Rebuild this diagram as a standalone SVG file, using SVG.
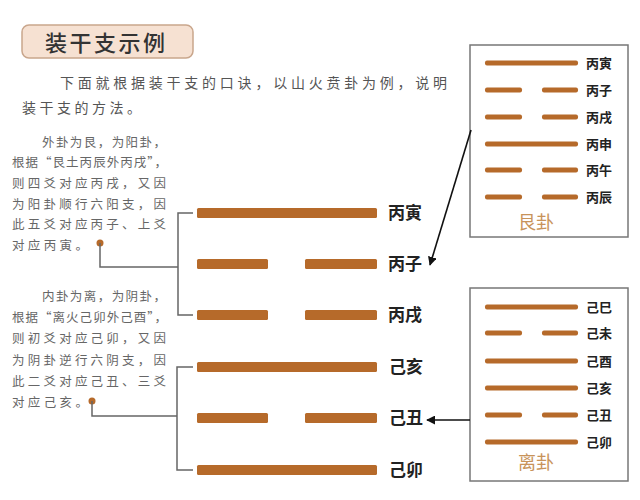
<svg xmlns="http://www.w3.org/2000/svg" width="640" height="500" viewBox="0 0 640 500">
<defs>
<style>
.yao{fill:#b66a2a;}
.byao{fill:#b66a2a;}
.lbl{font-family:"Noto Sans CJK SC","Noto Sans",sans-serif;font-size:17px;font-weight:bold;fill:#222;}
.blbl{font-family:"Noto Sans CJK SC","Noto Sans",sans-serif;font-size:13px;font-weight:bold;fill:#222;}
.note{font-family:"Noto Sans CJK SC","Noto Sans",sans-serif;font-size:12.5px;fill:#666;}
.para{font-family:"Noto Sans CJK SC","Noto Sans",sans-serif;font-size:14px;fill:#555;}
.gua{font-family:"Noto Sans CJK SC","Noto Sans",sans-serif;font-size:18px;fill:#c8935a;}
.box{fill:#fff;stroke:#777;stroke-width:1.5;}
.br{fill:none;stroke:#666;stroke-width:1.5;}
.arr{fill:none;stroke:#111;stroke-width:1.6;}
.dot{fill:#b66a2a;}
</style>
<marker id="ah" viewBox="0 0 10 10" refX="9" refY="5" markerWidth="9" markerHeight="9" markerUnits="userSpaceOnUse" orient="auto">
<path d="M0,0 L10,5 L0,10 z" fill="#111"/>
</marker>
</defs>
<rect width="640" height="500" fill="#fff"/>

<g id="title">
<rect x="22" y="25" width="171" height="33" rx="7" fill="#f6e1d2" stroke="#c9a68c" stroke-width="1.5"/>
<text x="45" y="50.5" font-family="'Noto Sans CJK SC',sans-serif" font-size="22" font-weight="500" fill="#333" letter-spacing="2.5">装干支示例</text>
</g>

<g id="intro">
<text class="para" x="60" y="88" textLength="387" lengthAdjust="spacing">下面就根据装干支的口诀，以山火贲卦为例，说明</text>
<text class="para" x="22" y="113" letter-spacing="3.5">装干支的方法。</text>
</g>

<g id="note-upper">
<text class="note" x="42" y="146.5" textLength="124" lengthAdjust="spacing">外卦为艮，为阳卦，</text>
<text class="note" x="12" y="167.2" textLength="155" lengthAdjust="spacing">根据“艮土丙辰外丙戌”，</text>
<text class="note" x="12" y="187.9" textLength="154" lengthAdjust="spacing">则四爻对应丙戌，又因</text>
<text class="note" x="12" y="208.6" textLength="154" lengthAdjust="spacing">为阳卦顺行六阳支，因</text>
<text class="note" x="12" y="229.3" textLength="154" lengthAdjust="spacing">此五爻对应丙子、上爻</text>
<text class="note" x="12" y="250" textLength="76" lengthAdjust="spacing">对应丙寅。</text>
<circle class="dot" cx="100" cy="243" r="3.5"/>
</g>

<g id="note-lower">
<text class="note" x="42" y="301" textLength="124" lengthAdjust="spacing">内卦为离，为阴卦，</text>
<text class="note" x="12" y="322.2" textLength="155" lengthAdjust="spacing">根据“离火己卯外己酉”，</text>
<text class="note" x="12" y="343.4" textLength="154" lengthAdjust="spacing">则初爻对应己卯，又因</text>
<text class="note" x="12" y="364.6" textLength="154" lengthAdjust="spacing">为阴卦逆行六阴支，因</text>
<text class="note" x="12" y="385.8" textLength="154" lengthAdjust="spacing">此二爻对应己丑、三爻</text>
<text class="note" x="12" y="407" textLength="76" lengthAdjust="spacing">对应己亥。</text>
<circle class="dot" cx="92" cy="401" r="3.5"/>
</g>

<g id="hexagram">
<g id="yao6"><rect class="yao" x="197" y="208" width="180" height="10" rx="1.5"/><text class="lbl" x="388" y="219">丙寅</text></g>
<g id="yao5"><rect class="yao" x="197" y="259" width="71" height="10" rx="1.5"/><rect class="yao" x="305" y="259" width="72" height="10" rx="1.5"/><text class="lbl" x="388" y="270">丙子</text></g>
<g id="yao4"><rect class="yao" x="197" y="310" width="71" height="10" rx="1.5"/><rect class="yao" x="305" y="310" width="72" height="10" rx="1.5"/><text class="lbl" x="388" y="321">丙戌</text></g>
<g id="yao3"><rect class="yao" x="197" y="362" width="180" height="10" rx="1.5"/><text class="lbl" x="389" y="373">己亥</text></g>
<g id="yao2"><rect class="yao" x="197" y="413" width="71" height="10" rx="1.5"/><rect class="yao" x="305" y="413" width="72" height="10" rx="1.5"/><text class="lbl" x="389" y="424">己丑</text></g>
<g id="yao1"><rect class="yao" x="197" y="465" width="180" height="10" rx="1.5"/><text class="lbl" x="389" y="476">己卯</text></g>
</g>

<g id="gen-box">
<rect class="box" x="470" y="45" width="158" height="192"/>
<rect class="byao" x="485" y="60.5" width="93" height="5" rx="2"/><text class="blbl" x="586" y="68">丙寅</text>
<rect class="byao" x="485" y="87.5" width="37" height="5" rx="2"/><rect class="byao" x="542" y="87.5" width="36" height="5" rx="2"/><text class="blbl" x="586" y="95">丙子</text>
<rect class="byao" x="485" y="114.5" width="37" height="5" rx="2"/><rect class="byao" x="542" y="114.5" width="36" height="5" rx="2"/><text class="blbl" x="586" y="122">丙戌</text>
<rect class="byao" x="485" y="141.5" width="93" height="5" rx="2"/><text class="blbl" x="586" y="149">丙申</text>
<rect class="byao" x="485" y="167.5" width="37" height="5" rx="2"/><rect class="byao" x="542" y="167.5" width="36" height="5" rx="2"/><text class="blbl" x="586" y="175">丙午</text>
<rect class="byao" x="485" y="194.5" width="37" height="5" rx="2"/><rect class="byao" x="542" y="194.5" width="36" height="5" rx="2"/><text class="blbl" x="586" y="202">丙辰</text>
<text class="gua" x="518" y="228.5">艮卦</text>
</g>

<g id="li-box">
<rect class="box" x="470" y="288" width="158" height="193"/>
<rect class="byao" x="485" y="304.5" width="93" height="5" rx="2"/><text class="blbl" x="586" y="312">己巳</text>
<rect class="byao" x="485" y="330.5" width="37" height="5" rx="2"/><rect class="byao" x="542" y="330.5" width="36" height="5" rx="2"/><text class="blbl" x="586" y="338">己未</text>
<rect class="byao" x="485" y="358.5" width="93" height="5" rx="2"/><text class="blbl" x="586" y="366">己酉</text>
<rect class="byao" x="485" y="385.5" width="93" height="5" rx="2"/><text class="blbl" x="586" y="393">己亥</text>
<rect class="byao" x="485" y="412.5" width="37" height="5" rx="2"/><rect class="byao" x="542" y="412.5" width="36" height="5" rx="2"/><text class="blbl" x="586" y="420">己丑</text>
<rect class="byao" x="485" y="439.5" width="93" height="5" rx="2"/><text class="blbl" x="586" y="447">己卯</text>
<text class="gua" x="518" y="468.5">离卦</text>
</g>

<g id="connectors">
<path class="br" d="M193,213 H178 V315 H193"/>
<path class="br" d="M100,243 V267 H178"/>
<path class="br" d="M193,367 H177 V470 H193"/>
<path class="br" d="M92,401 V416 H177"/>
<line class="arr" x1="471" y1="130" x2="430" y2="265" marker-end="url(#ah)"/>
<line class="arr" x1="470" y1="420" x2="427" y2="420" marker-end="url(#ah)"/>
</g>
</svg>
